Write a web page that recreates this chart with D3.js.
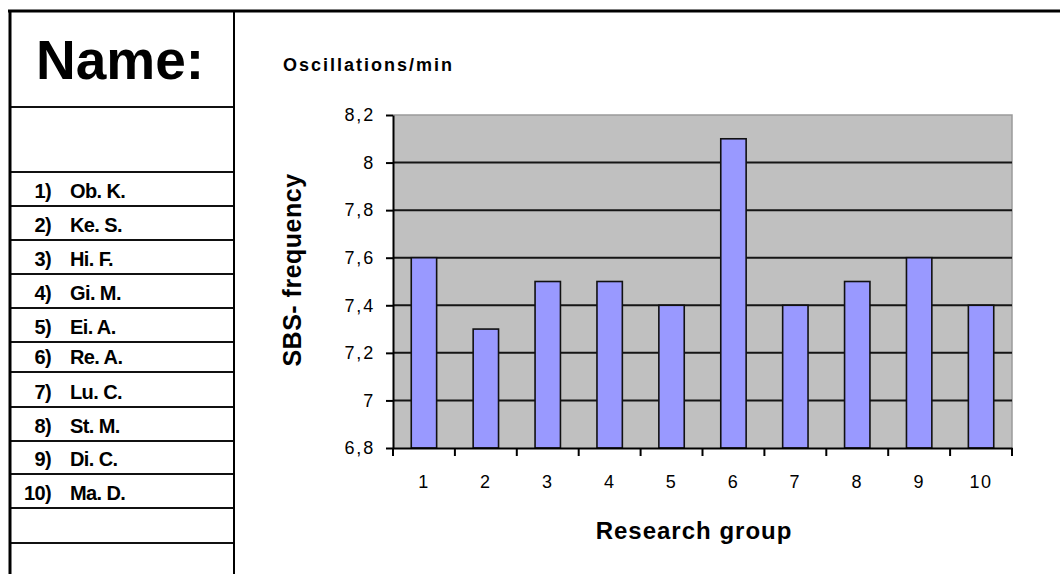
<!DOCTYPE html>
<html>
<head>
<meta charset="utf-8">
<script src="https://cdn.jsdelivr.net/npm/d3@7"></script>
<style>
  html, body { margin: 0; padding: 0; background: #fff; }
  svg { display: block; }
  text { font-family: "Liberation Sans", Arial, Helvetica, sans-serif; fill: #000; }
</style>
</head>
<body>
<svg id="chart" width="1060" height="574"></svg>
<script>
// Research groups and their measured SBS frequency (oscillations per minute)
const groups = ["1", "2", "3", "4", "5", "6", "7", "8", "9", "10"];
const frequency = [7.6, 7.3, 7.5, 7.5, 7.4, 8.1, 7.4, 7.5, 7.6, 7.4];
const yTicks = [6.8, 7.0, 7.2, 7.4, 7.6, 7.8, 8.0, 8.2];
const yDomain = [6.8, 8.2];

// Name list shown in the side table
const memberNumbers = ["1)", "2)", "3)", "4)", "5)", "6)", "7)", "8)", "9)", "10)"];
const memberNames = ["Ob. K.", "Ke. S.", "Hi. F.", "Gi. M.", "Ei. A.", "Re. A.", "Lu. C.", "St. M.", "Di. C.", "Ma. D."];

const titleText = "Name:";
const unitText = "Oscillations/min";
const yTitle = "SBS- frequency";
const xTitle = "Research group";

const svg = d3.select("#chart");
const fmt = v => d3.format(".1~f")(v).replace(".", ",");

// ---------- side table ----------
const tbl = { left: 10, right: 234, top: 11, bottom: 574 };
// row boundaries of the table (header, blank row, ten names, two blank rows)
const rowLines = [107, 172, 206, 240, 274, 308, 342, 372, 407, 441, 474, 508, 543];

const table = svg.append("g");
rowLines.forEach(y => {
  table.append("line")
    .attr("x1", tbl.left).attr("x2", tbl.right)
    .attr("y1", y).attr("y2", y)
    .attr("stroke", "#111").attr("stroke-width", 2);
});
// outer frame
table.append("line").attr("x1", 8).attr("x2", 1060).attr("y1", tbl.top).attr("y2", tbl.top)
  .attr("stroke", "#000").attr("stroke-width", 3);
table.append("line").attr("x1", tbl.left).attr("x2", tbl.left).attr("y1", tbl.top).attr("y2", tbl.bottom)
  .attr("stroke", "#000").attr("stroke-width", 3);
table.append("line").attr("x1", tbl.right).attr("x2", tbl.right).attr("y1", tbl.top).attr("y2", tbl.bottom)
  .attr("stroke", "#000").attr("stroke-width", 2);

table.append("text")
  .attr("x", 120).attr("y", 79)
  .attr("text-anchor", "middle")
  .attr("font-weight", "bold").attr("font-size", 55)
  .text(titleText);

memberNames.forEach((name, i) => {
  const bottom = rowLines[i + 2];
  table.append("text")
    .attr("x", 51).attr("y", bottom - 8)
    .attr("text-anchor", "end")
    .attr("font-weight", "bold").attr("font-size", 20)
    .attr("letter-spacing", -0.6)
    .text(memberNumbers[i]);
  table.append("text")
    .attr("x", 70).attr("y", bottom - 8)
    .attr("font-weight", "bold").attr("font-size", 20)
    .attr("letter-spacing", -0.6)
    .text(name);
});

// ---------- bar chart ----------
const plot = { left: 393, right: 1012, top: 115, bottom: 448 };

const x = d3.scaleBand().domain(groups).range([plot.left, plot.right]).padding(0);
const y = d3.scaleLinear().domain(yDomain).range([plot.bottom, plot.top]);

const g = svg.append("g");

// plot area background
g.append("rect")
  .attr("x", plot.left).attr("y", plot.top)
  .attr("width", plot.right - plot.left).attr("height", plot.bottom - plot.top)
  .attr("fill", "#c0c0c0");

// top and right frame of plot area
g.append("path")
  .attr("d", `M${plot.left},${plot.top}H${plot.right}V${plot.bottom}`)
  .attr("fill", "none").attr("stroke", "#9a9a9a").attr("stroke-width", 1.5);

// horizontal gridlines
g.selectAll("line.grid")
  .data(yTicks.filter(v => v > yDomain[0] && v < yDomain[1]))
  .join("line")
  .attr("class", "grid")
  .attr("x1", plot.left).attr("x2", plot.right)
  .attr("y1", d => y(d)).attr("y2", d => y(d))
  .attr("stroke", "#151515").attr("stroke-width", 2);

// bars
const barW = x.bandwidth() * 0.41;
g.selectAll("rect.bar")
  .data(frequency)
  .join("rect")
  .attr("class", "bar")
  .attr("x", (d, i) => x(groups[i]) + (x.bandwidth() - barW) / 2)
  .attr("y", d => y(d))
  .attr("width", barW)
  .attr("height", d => y(yDomain[0]) - y(d))
  .attr("fill", "#9999ff")
  .attr("stroke", "#111").attr("stroke-width", 1.6);

// y axis
const yAxis = g.append("g")
  .attr("transform", `translate(${plot.left},0)`)
  .call(d3.axisLeft(y).tickValues(yTicks).tickFormat(fmt).tickSize(7).tickSizeOuter(0).tickPadding(11));
yAxis.select(".domain").attr("stroke", "#000").attr("stroke-width", 2);
yAxis.selectAll(".tick line").attr("stroke", "#000").attr("stroke-width", 2);
yAxis.selectAll(".tick text")
  .attr("font-family", "Liberation Sans, Arial, sans-serif")
  .attr("font-size", 18).attr("letter-spacing", 1.8).attr("fill", "#111");

// x axis: labels centred on bands, tick marks on band boundaries
const xAxis = g.append("g")
  .attr("transform", `translate(0,${plot.bottom})`)
  .call(d3.axisBottom(x).tickSize(0).tickPadding(27));
xAxis.select(".domain").attr("stroke", "#000").attr("stroke-width", 2);
xAxis.selectAll(".tick text")
  .attr("font-family", "Liberation Sans, Arial, sans-serif")
  .attr("font-size", 18).attr("letter-spacing", 1.5).attr("fill", "#111");

const boundaries = groups.map(d => x(d)).concat([x(groups[groups.length - 1]) + x.bandwidth()]);
xAxis.selectAll("line.bound")
  .data(boundaries)
  .join("line")
  .attr("class", "bound")
  .attr("x1", d => d).attr("x2", d => d)
  .attr("y1", 0).attr("y2", 8)
  .attr("stroke", "#000").attr("stroke-width", 2);

// titles
svg.append("text")
  .attr("x", 283).attr("y", 71)
  .attr("font-weight", "bold").attr("font-size", 18)
  .attr("letter-spacing", 2)
  .text(unitText);

svg.append("text")
  .attr("transform", `translate(301,270) rotate(-90)`)
  .attr("text-anchor", "middle")
  .attr("font-weight", "bold").attr("font-size", 25)
  .attr("letter-spacing", 0.5)
  .text(yTitle);

svg.append("text")
  .attr("x", 694).attr("y", 539)
  .attr("text-anchor", "middle")
  .attr("font-weight", "bold").attr("font-size", 24)
  .attr("letter-spacing", 1)
  .text(xTitle);
</script>
</body>
</html>
